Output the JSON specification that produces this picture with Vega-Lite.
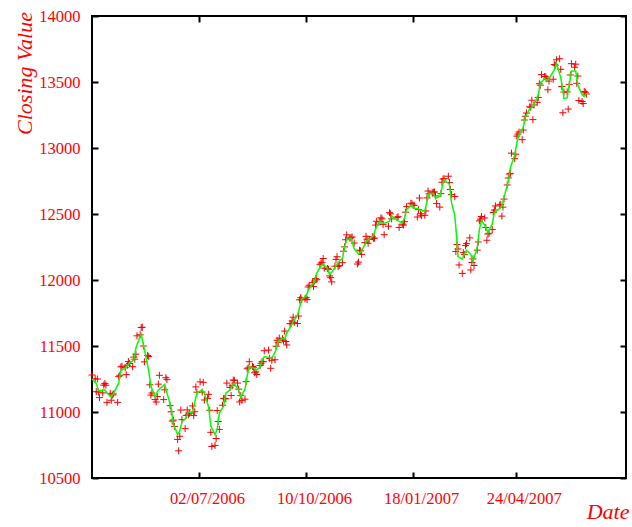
{
"$schema": "https://vega.github.io/schema/vega-lite/v6.json",
"width": 534, "height": 462,
"autosize": {"type": "none"},
"padding": {"left": 92, "top": 16, "right": 6, "bottom": 49},
"background": "white",
"config": {
 "view": {"stroke": "black", "strokeWidth": 2},
 "axis": {"grid": false, "domain": false, "labelFont": "Liberation Serif", "labelFontSize": 16.5, "labelColor": "#ff0000",
  "titleFont": "Liberation Serif", "titleFontStyle": "italic", "titleFontWeight": "normal", "titleColor": "#ff0000", "titleFontSize": 22,
  "tickColor": "black", "tickWidth": 2, "tickSize": -6}
},
"datasets": {
"pts": [
{"d":"2006-03-24","v":11280},{"d":"2006-03-27","v":11251},{"d":"2006-03-28","v":11154},{"d":"2006-03-29","v":11250},{"d":"2006-03-30","v":11151},{"d":"2006-03-31","v":11109},
{"d":"2006-04-03","v":11145},{"d":"2006-04-04","v":11204},{"d":"2006-04-05","v":11216},{"d":"2006-04-06","v":11203},{"d":"2006-04-07","v":11073},{"d":"2006-04-10","v":11141},{"d":"2006-04-11","v":11089},{"d":"2006-04-12","v":11129},{"d":"2006-04-13","v":11137},{"d":"2006-04-17","v":11073},{"d":"2006-04-18","v":11268},{"d":"2006-04-19","v":11278},{"d":"2006-04-20","v":11342},{"d":"2006-04-21","v":11347},{"d":"2006-04-24","v":11336},{"d":"2006-04-25","v":11283},{"d":"2006-04-26","v":11354},{"d":"2006-04-27","v":11382},{"d":"2006-04-28","v":11367},
{"d":"2006-05-01","v":11343},{"d":"2006-05-02","v":11416},{"d":"2006-05-03","v":11400},{"d":"2006-05-04","v":11438},{"d":"2006-05-05","v":11577},{"d":"2006-05-08","v":11585},{"d":"2006-05-09","v":11640},{"d":"2006-05-10","v":11642},{"d":"2006-05-11","v":11500},{"d":"2006-05-12","v":11380},{"d":"2006-05-15","v":11428},{"d":"2006-05-16","v":11420},{"d":"2006-05-17","v":11206},{"d":"2006-05-18","v":11128},{"d":"2006-05-19","v":11144},{"d":"2006-05-22","v":11094},{"d":"2006-05-23","v":11076},{"d":"2006-05-24","v":11117},{"d":"2006-05-25","v":11211},{"d":"2006-05-26","v":11278},{"d":"2006-05-30","v":11094},{"d":"2006-05-31","v":11168},
{"d":"2006-06-01","v":11260},{"d":"2006-06-02","v":11247},{"d":"2006-06-05","v":11048},{"d":"2006-06-06","v":11002},{"d":"2006-06-07","v":10931},{"d":"2006-06-08","v":10939},{"d":"2006-06-09","v":10891},{"d":"2006-06-12","v":10792},{"d":"2006-06-13","v":10706},{"d":"2006-06-14","v":10816},{"d":"2006-06-15","v":11015},{"d":"2006-06-16","v":10942},{"d":"2006-06-19","v":10874},{"d":"2006-06-20","v":10974},{"d":"2006-06-21","v":11016},{"d":"2006-06-22","v":10979},{"d":"2006-06-23","v":10990},{"d":"2006-06-26","v":11046},{"d":"2006-06-27","v":10973},{"d":"2006-06-28","v":11002},{"d":"2006-06-29","v":11190},{"d":"2006-06-30","v":11150},
{"d":"2006-07-03","v":11228},{"d":"2006-07-05","v":11151},{"d":"2006-07-06","v":11225},{"d":"2006-07-07","v":11091},{"d":"2006-07-10","v":11103},{"d":"2006-07-11","v":11134},{"d":"2006-07-12","v":11013},{"d":"2006-07-13","v":10846},{"d":"2006-07-14","v":10739},{"d":"2006-07-17","v":10747},{"d":"2006-07-18","v":10799},{"d":"2006-07-19","v":11011},{"d":"2006-07-20","v":10928},{"d":"2006-07-21","v":10868},{"d":"2006-07-24","v":11051},{"d":"2006-07-25","v":11103},{"d":"2006-07-26","v":11102},{"d":"2006-07-27","v":11100},{"d":"2006-07-28","v":11219},{"d":"2006-07-31","v":11186},
{"d":"2006-08-01","v":11125},{"d":"2006-08-02","v":11199},{"d":"2006-08-03","v":11242},{"d":"2006-08-04","v":11240},{"d":"2006-08-07","v":11219},{"d":"2006-08-08","v":11173},{"d":"2006-08-09","v":11076},{"d":"2006-08-10","v":11124},{"d":"2006-08-11","v":11088},{"d":"2006-08-14","v":11097},{"d":"2006-08-15","v":11230},{"d":"2006-08-16","v":11327},{"d":"2006-08-17","v":11334},{"d":"2006-08-18","v":11381},{"d":"2006-08-21","v":11345},{"d":"2006-08-22","v":11339},{"d":"2006-08-23","v":11297},{"d":"2006-08-24","v":11304},{"d":"2006-08-25","v":11284},{"d":"2006-08-28","v":11352},{"d":"2006-08-29","v":11369},{"d":"2006-08-30","v":11382},{"d":"2006-08-31","v":11381},
{"d":"2006-09-01","v":11464},{"d":"2006-09-05","v":11469},{"d":"2006-09-06","v":11406},{"d":"2006-09-07","v":11331},{"d":"2006-09-08","v":11392},{"d":"2006-09-11","v":11396},{"d":"2006-09-12","v":11498},{"d":"2006-09-13","v":11543},{"d":"2006-09-14","v":11528},{"d":"2006-09-15","v":11560},{"d":"2006-09-18","v":11555},{"d":"2006-09-19","v":11540},{"d":"2006-09-20","v":11613},{"d":"2006-09-21","v":11534},{"d":"2006-09-22","v":11508},{"d":"2006-09-25","v":11670},{"d":"2006-09-26","v":11669},{"d":"2006-09-27","v":11689},{"d":"2006-09-28","v":11718},{"d":"2006-09-29","v":11679},
{"d":"2006-10-02","v":11670},{"d":"2006-10-03","v":11727},{"d":"2006-10-04","v":11850},{"d":"2006-10-05","v":11866},{"d":"2006-10-06","v":11850},{"d":"2006-10-09","v":11857},{"d":"2006-10-10","v":11867},{"d":"2006-10-11","v":11852},{"d":"2006-10-12","v":11947},{"d":"2006-10-13","v":11960},{"d":"2006-10-16","v":11980},{"d":"2006-10-17","v":11950},{"d":"2006-10-18","v":11992},{"d":"2006-10-19","v":12011},{"d":"2006-10-20","v":12002},{"d":"2006-10-23","v":12116},{"d":"2006-10-24","v":12128},{"d":"2006-10-25","v":12134},{"d":"2006-10-26","v":12163},{"d":"2006-10-27","v":12090},{"d":"2006-10-30","v":12087},{"d":"2006-10-31","v":12081},
{"d":"2006-11-01","v":12031},{"d":"2006-11-02","v":12018},{"d":"2006-11-03","v":11986},{"d":"2006-11-06","v":12105},{"d":"2006-11-07","v":12156},{"d":"2006-11-08","v":12176},{"d":"2006-11-09","v":12103},{"d":"2006-11-10","v":12109},{"d":"2006-11-13","v":12131},{"d":"2006-11-14","v":12218},{"d":"2006-11-15","v":12251},{"d":"2006-11-16","v":12305},{"d":"2006-11-17","v":12342},{"d":"2006-11-20","v":12316},{"d":"2006-11-21","v":12321},{"d":"2006-11-22","v":12326},{"d":"2006-11-24","v":12280},{"d":"2006-11-27","v":12121},{"d":"2006-11-28","v":12136},{"d":"2006-11-29","v":12226},{"d":"2006-11-30","v":12221},
{"d":"2006-12-01","v":12194},{"d":"2006-12-04","v":12283},{"d":"2006-12-05","v":12331},{"d":"2006-12-06","v":12309},{"d":"2006-12-07","v":12278},{"d":"2006-12-08","v":12307},{"d":"2006-12-11","v":12328},{"d":"2006-12-12","v":12315},{"d":"2006-12-13","v":12317},{"d":"2006-12-14","v":12416},{"d":"2006-12-15","v":12445},{"d":"2006-12-18","v":12441},{"d":"2006-12-19","v":12471},{"d":"2006-12-20","v":12463},{"d":"2006-12-21","v":12421},{"d":"2006-12-22","v":12343},{"d":"2006-12-26","v":12407},{"d":"2006-12-27","v":12510},{"d":"2006-12-28","v":12501},{"d":"2006-12-29","v":12463},
{"d":"2007-01-03","v":12474},{"d":"2007-01-04","v":12480},{"d":"2007-01-05","v":12398},{"d":"2007-01-08","v":12423},{"d":"2007-01-09","v":12416},{"d":"2007-01-10","v":12442},{"d":"2007-01-11","v":12514},{"d":"2007-01-12","v":12556},{"d":"2007-01-16","v":12582},{"d":"2007-01-17","v":12577},{"d":"2007-01-18","v":12567},{"d":"2007-01-19","v":12565},{"d":"2007-01-22","v":12477},{"d":"2007-01-23","v":12533},{"d":"2007-01-24","v":12621},{"d":"2007-01-25","v":12502},{"d":"2007-01-26","v":12487},{"d":"2007-01-29","v":12490},{"d":"2007-01-30","v":12523},{"d":"2007-01-31","v":12622},
{"d":"2007-02-01","v":12674},{"d":"2007-02-02","v":12653},{"d":"2007-02-05","v":12661},{"d":"2007-02-06","v":12666},{"d":"2007-02-07","v":12667},{"d":"2007-02-08","v":12637},{"d":"2007-02-09","v":12580},{"d":"2007-02-12","v":12552},{"d":"2007-02-13","v":12654},{"d":"2007-02-14","v":12741},{"d":"2007-02-15","v":12765},{"d":"2007-02-16","v":12768},{"d":"2007-02-20","v":12786},{"d":"2007-02-21","v":12738},{"d":"2007-02-22","v":12686},{"d":"2007-02-23","v":12647},{"d":"2007-02-26","v":12632},{"d":"2007-02-27","v":12216},{"d":"2007-02-28","v":12269},
{"d":"2007-03-01","v":12235},{"d":"2007-03-02","v":12114},{"d":"2007-03-05","v":12050},{"d":"2007-03-06","v":12207},{"d":"2007-03-07","v":12192},{"d":"2007-03-08","v":12261},{"d":"2007-03-09","v":12276},{"d":"2007-03-12","v":12319},{"d":"2007-03-13","v":12076},{"d":"2007-03-14","v":12133},{"d":"2007-03-15","v":12160},{"d":"2007-03-16","v":12110},{"d":"2007-03-19","v":12226},{"d":"2007-03-20","v":12288},{"d":"2007-03-21","v":12448},{"d":"2007-03-22","v":12461},{"d":"2007-03-23","v":12481},{"d":"2007-03-26","v":12470},{"d":"2007-03-27","v":12398},{"d":"2007-03-28","v":12301},{"d":"2007-03-29","v":12349},{"d":"2007-03-30","v":12354},
{"d":"2007-04-02","v":12383},{"d":"2007-04-03","v":12511},{"d":"2007-04-04","v":12530},{"d":"2007-04-05","v":12561},{"d":"2007-04-09","v":12569},{"d":"2007-04-10","v":12573},{"d":"2007-04-11","v":12484},{"d":"2007-04-12","v":12552},{"d":"2007-04-13","v":12613},{"d":"2007-04-16","v":12720},{"d":"2007-04-17","v":12773},{"d":"2007-04-18","v":12803},{"d":"2007-04-19","v":12808},{"d":"2007-04-20","v":12961},{"d":"2007-04-23","v":12919},{"d":"2007-04-24","v":12953},{"d":"2007-04-25","v":13090},{"d":"2007-04-26","v":13105},{"d":"2007-04-27","v":13121},{"d":"2007-04-30","v":13063},
{"d":"2007-05-01","v":13136},{"d":"2007-05-02","v":13212},{"d":"2007-05-03","v":13241},{"d":"2007-05-04","v":13265},{"d":"2007-05-07","v":13312},{"d":"2007-05-08","v":13309},{"d":"2007-05-09","v":13362},{"d":"2007-05-10","v":13215},{"d":"2007-05-11","v":13326},{"d":"2007-05-14","v":13346},{"d":"2007-05-15","v":13383},{"d":"2007-05-16","v":13487},{"d":"2007-05-17","v":13476},{"d":"2007-05-18","v":13556},{"d":"2007-05-21","v":13542},{"d":"2007-05-22","v":13539},{"d":"2007-05-23","v":13525},{"d":"2007-05-24","v":13441},{"d":"2007-05-25","v":13507},{"d":"2007-05-29","v":13521},{"d":"2007-05-30","v":13633},{"d":"2007-05-31","v":13627},
{"d":"2007-06-01","v":13668},{"d":"2007-06-04","v":13676},{"d":"2007-06-05","v":13596},{"d":"2007-06-06","v":13466},{"d":"2007-06-07","v":13267},{"d":"2007-06-08","v":13424},{"d":"2007-06-11","v":13425},{"d":"2007-06-12","v":13295},{"d":"2007-06-13","v":13482},{"d":"2007-06-14","v":13553},{"d":"2007-06-15","v":13639},{"d":"2007-06-18","v":13612},{"d":"2007-06-19","v":13635},{"d":"2007-06-20","v":13490},{"d":"2007-06-21","v":13545},{"d":"2007-06-22","v":13360},{"d":"2007-06-25","v":13352},{"d":"2007-06-26","v":13337},{"d":"2007-06-27","v":13428},{"d":"2007-06-28","v":13422},{"d":"2007-06-29","v":13409}
],
"smooth": [
{"d":"2006-03-24","s":11250},{"d":"2006-03-28","s":11217},{"d":"2006-03-30","s":11162},{"d":"2006-04-03","s":11165},{"d":"2006-04-05","s":11168},{"d":"2006-04-07","s":11144},{"d":"2006-04-11","s":11114},{"d":"2006-04-13","s":11139},{"d":"2006-04-18","s":11220},{"d":"2006-04-20","s":11314},{"d":"2006-04-24","s":11332},{"d":"2006-04-26","s":11344},{"d":"2006-04-28","s":11372},
{"d":"2006-05-02","s":11393},{"d":"2006-05-04","s":11483},{"d":"2006-05-08","s":11576},{"d":"2006-05-09","s":11589},{"d":"2006-05-10","s":11549},{"d":"2006-05-12","s":11474},{"d":"2006-05-16","s":11312},{"d":"2006-05-18","s":11198},{"d":"2006-05-22","s":11112},{"d":"2006-05-24","s":11155},{"d":"2006-05-26","s":11174},{"d":"2006-05-31","s":11209},
{"d":"2006-06-02","s":11145},{"d":"2006-06-06","s":11033},{"d":"2006-06-08","s":10911},{"d":"2006-06-12","s":10829},{"d":"2006-06-13","s":10844},{"d":"2006-06-14","s":10854},{"d":"2006-06-16","s":10924},{"d":"2006-06-20","s":10957},{"d":"2006-06-22","s":11001},{"d":"2006-06-26","s":10998},{"d":"2006-06-28","s":11072},{"d":"2006-06-30","s":11144},
{"d":"2006-07-05","s":11169},{"d":"2006-07-07","s":11141},{"d":"2006-07-11","s":11037},{"d":"2006-07-13","s":10896},{"d":"2006-07-17","s":10828},{"d":"2006-07-19","s":10871},{"d":"2006-07-21","s":10992},{"d":"2006-07-25","s":11045},{"d":"2006-07-27","s":11142},{"d":"2006-07-31","s":11166},
{"d":"2006-08-02","s":11198},{"d":"2006-08-04","s":11215},{"d":"2006-08-08","s":11166},{"d":"2006-08-10","s":11112},{"d":"2006-08-14","s":11173},{"d":"2006-08-16","s":11274},{"d":"2006-08-18","s":11345},{"d":"2006-08-22","s":11333},{"d":"2006-08-24","s":11315},{"d":"2006-08-28","s":11338},{"d":"2006-08-30","s":11390},
{"d":"2006-09-01","s":11420},{"d":"2006-09-06","s":11412},{"d":"2006-09-08","s":11405},{"d":"2006-09-12","s":11471},{"d":"2006-09-14","s":11537},{"d":"2006-09-18","s":11559},{"d":"2006-09-20","s":11550},{"d":"2006-09-22","s":11599},{"d":"2006-09-26","s":11651},{"d":"2006-09-28","s":11685},
{"d":"2006-10-02","s":11729},{"d":"2006-10-04","s":11793},{"d":"2006-10-06","s":11858},{"d":"2006-10-10","s":11875},{"d":"2006-10-12","s":11921},{"d":"2006-10-16","s":11966},{"d":"2006-10-18","s":11987},{"d":"2006-10-20","s":12050},{"d":"2006-10-24","s":12109},{"d":"2006-10-26","s":12120},{"d":"2006-10-30","s":12090},
{"d":"2006-11-01","s":12041},{"d":"2006-11-03","s":12059},{"d":"2006-11-07","s":12105},{"d":"2006-11-09","s":12135},{"d":"2006-11-13","s":12162},{"d":"2006-11-15","s":12249},{"d":"2006-11-17","s":12307},{"d":"2006-11-21","s":12317},{"d":"2006-11-24","s":12237},{"d":"2006-11-28","s":12197},{"d":"2006-11-30","s":12212},
{"d":"2006-12-04","s":12268},{"d":"2006-12-06","s":12302},{"d":"2006-12-08","s":12307},{"d":"2006-12-12","s":12337},{"d":"2006-12-14","s":12387},{"d":"2006-12-18","s":12447},{"d":"2006-12-20","s":12428},{"d":"2006-12-22","s":12429},{"d":"2006-12-27","s":12445},{"d":"2006-12-29","s":12486},
{"d":"2007-01-04","s":12448},{"d":"2007-01-08","s":12432},{"d":"2007-01-10","s":12470},{"d":"2007-01-12","s":12534},{"d":"2007-01-17","s":12569},{"d":"2007-01-19","s":12544},{"d":"2007-01-23","s":12540},{"d":"2007-01-25","s":12527},{"d":"2007-01-29","s":12525},{"d":"2007-01-31","s":12592},
{"d":"2007-02-02","s":12655},{"d":"2007-02-06","s":12657},{"d":"2007-02-08","s":12620},{"d":"2007-02-12","s":12633},{"d":"2007-02-14","s":12696},{"d":"2007-02-16","s":12760},{"d":"2007-02-21","s":12725},{"d":"2007-02-23","s":12584},{"d":"2007-02-26","s":12490},{"d":"2007-02-27","s":12400},{"d":"2007-02-28","s":12293},
{"d":"2007-03-01","s":12177},{"d":"2007-03-05","s":12160},{"d":"2007-03-07","s":12197},{"d":"2007-03-09","s":12225},{"d":"2007-03-13","s":12193},{"d":"2007-03-15","s":12141},{"d":"2007-03-19","s":12246},{"d":"2007-03-21","s":12381},{"d":"2007-03-23","s":12452},{"d":"2007-03-27","s":12400},{"d":"2007-03-29","s":12357},
{"d":"2007-04-02","s":12425},{"d":"2007-04-04","s":12511},{"d":"2007-04-09","s":12543},{"d":"2007-04-11","s":12558},{"d":"2007-04-13","s":12628},{"d":"2007-04-17","s":12743},{"d":"2007-04-19","s":12853},{"d":"2007-04-23","s":12946},{"d":"2007-04-25","s":13038},{"d":"2007-04-27","s":13103},
{"d":"2007-05-01","s":13155},{"d":"2007-05-03","s":13233},{"d":"2007-05-07","s":13298},{"d":"2007-05-09","s":13305},{"d":"2007-05-11","s":13326},{"d":"2007-05-15","s":13404},{"d":"2007-05-17","s":13489},{"d":"2007-05-21","s":13528},{"d":"2007-05-23","s":13511},{"d":"2007-05-25","s":13525},{"d":"2007-05-30","s":13591},
{"d":"2007-06-01","s":13640},{"d":"2007-06-05","s":13535},{"d":"2007-06-07","s":13436},{"d":"2007-06-08","s":13375},{"d":"2007-06-11","s":13379},{"d":"2007-06-13","s":13479},{"d":"2007-06-15","s":13584},{"d":"2007-06-19","s":13584},{"d":"2007-06-21","s":13476},{"d":"2007-06-25","s":13404},{"d":"2007-06-27","s":13390},{"d":"2007-06-29","s":13415}
]
},
"layer": [
 {
  "data": {"name": "pts"},
  "mark": {"type": "point", "shape": "M-1,0L1,0M0,-1L0,1", "filled": false, "color": "#ff0000", "stroke": "#ff0000", "strokeWidth": 1, "size": 49, "opacity": 1},
  "encoding": {
   "x": {"field": "d", "type": "temporal",
    "scale": {"type": "utc", "domain": [{"year": 2006, "month": 3, "date": 24, "utc": true}, {"year": 2007, "month": 8, "date": 5, "utc": true}]},
    "axis": {"orient": "bottom", "labelExpr": "utcFormat(datum.value, '%d/%m/%Y')", "labelPadding": 18, "labelOffset": 8,
     "values": [{"year": 2006, "month": 7, "date": 2, "utc": true}, {"year": 2006, "month": 10, "date": 10, "utc": true}, {"year": 2007, "month": 1, "date": 18, "utc": true}, {"year": 2007, "month": 4, "date": 24, "utc": true}],
     "title": "Date", "titleAnchor": "end", "titleAlign": "right", "titleBaseline": "alphabetic", "titleX": 537, "titleY": 40, "titleAngle": 0}},
   "y": {"field": "v", "type": "quantitative",
    "scale": {"domain": [10500, 14000], "nice": false, "zero": false},
    "axis": {"orient": "left", "values": [10500, 11000, 11500, 12000, 12500, 13000, 13500, 14000], "labelPadding": 18, "format": "d",
     "title": "Closing Value", "titleAngle": -90, "titleAlign": "center", "titleBaseline": "alphabetic", "titleX": -61, "titleY": 57}}
  }
 },
 {
  "data": {"name": "smooth"},
  "mark": {"type": "line", "color": "#00ff00", "strokeWidth": 1.5},
  "encoding": {
   "x": {"field": "d", "type": "temporal",
    "scale": {"type": "utc", "domain": [{"year": 2006, "month": 3, "date": 24, "utc": true}, {"year": 2007, "month": 8, "date": 5, "utc": true}]},
    "axis": {"orient": "top", "labels": false, "title": null,
     "values": [{"year": 2006, "month": 7, "date": 2, "utc": true}, {"year": 2006, "month": 10, "date": 10, "utc": true}, {"year": 2007, "month": 1, "date": 18, "utc": true}, {"year": 2007, "month": 4, "date": 24, "utc": true}]}},
   "y": {"field": "s", "type": "quantitative",
    "scale": {"domain": [10500, 14000], "nice": false, "zero": false},
    "axis": {"orient": "right", "labels": false, "title": null, "values": [10500, 11000, 11500, 12000, 12500, 13000, 13500, 14000]}}
  }
 }
],
"resolve": {"axis": {"x": "independent", "y": "independent"}}
}
